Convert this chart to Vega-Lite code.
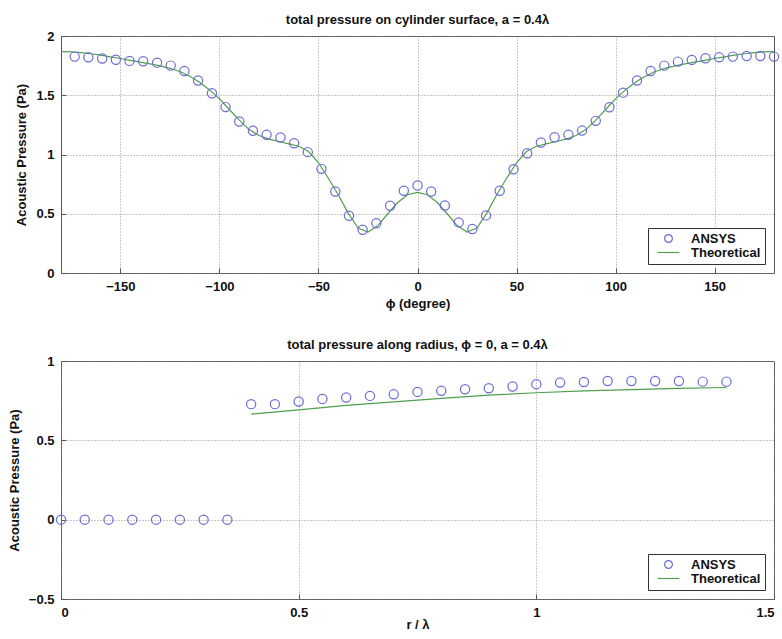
{
  "$schema": "https://vega.github.io/schema/vega-lite/v6.json",
  "padding": {"left": 7, "top": 13, "right": 0, "bottom": 0},
  "spacing": 88,
  "bounds": "flush",
  "datasets": {
    "topAnsys": [
      {"phi": -173.1, "p": 1.826}, {"phi": -166.2, "p": 1.82}, {"phi": -159.2, "p": 1.81}, {"phi": -152.3, "p": 1.8},
      {"phi": -145.4, "p": 1.79}, {"phi": -138.5, "p": 1.787}, {"phi": -131.5, "p": 1.775}, {"phi": -124.6, "p": 1.75},
      {"phi": -117.7, "p": 1.705}, {"phi": -110.8, "p": 1.624}, {"phi": -103.8, "p": 1.517}, {"phi": -96.9, "p": 1.4},
      {"phi": -90.0, "p": 1.278}, {"phi": -83.1, "p": 1.2}, {"phi": -76.2, "p": 1.166}, {"phi": -69.2, "p": 1.143},
      {"phi": -62.3, "p": 1.095}, {"phi": -55.4, "p": 1.02}, {"phi": -48.5, "p": 0.879}, {"phi": -41.5, "p": 0.688},
      {"phi": -34.6, "p": 0.483}, {"phi": -27.7, "p": 0.365}, {"phi": -20.8, "p": 0.42}, {"phi": -13.8, "p": 0.568},
      {"phi": -6.9, "p": 0.694}, {"phi": 0.0, "p": 0.739}, {"phi": 6.9, "p": 0.688}, {"phi": 13.8, "p": 0.57},
      {"phi": 20.8, "p": 0.427}, {"phi": 27.7, "p": 0.371}, {"phi": 34.6, "p": 0.486}, {"phi": 41.5, "p": 0.694},
      {"phi": 48.5, "p": 0.876}, {"phi": 55.4, "p": 1.011}, {"phi": 62.3, "p": 1.101}, {"phi": 69.2, "p": 1.146},
      {"phi": 76.2, "p": 1.166}, {"phi": 83.1, "p": 1.202}, {"phi": 90.0, "p": 1.284}, {"phi": 96.9, "p": 1.399},
      {"phi": 103.8, "p": 1.522}, {"phi": 110.8, "p": 1.624}, {"phi": 117.7, "p": 1.705}, {"phi": 124.6, "p": 1.75},
      {"phi": 131.5, "p": 1.784}, {"phi": 138.5, "p": 1.798}, {"phi": 145.4, "p": 1.812}, {"phi": 152.3, "p": 1.82},
      {"phi": 159.2, "p": 1.826}, {"phi": 166.2, "p": 1.831}, {"phi": 173.1, "p": 1.831}, {"phi": 180.0, "p": 1.826}
    ],
    "topTheory": [
      {"phi": -180, "p": 1.868}, {"phi": -175, "p": 1.866}, {"phi": -170, "p": 1.86}, {"phi": -165, "p": 1.85},
      {"phi": -160, "p": 1.838}, {"phi": -155, "p": 1.824}, {"phi": -150, "p": 1.81}, {"phi": -145, "p": 1.795},
      {"phi": -140, "p": 1.78}, {"phi": -135, "p": 1.765}, {"phi": -130, "p": 1.748}, {"phi": -125, "p": 1.727},
      {"phi": -120, "p": 1.7}, {"phi": -115, "p": 1.66}, {"phi": -110, "p": 1.61}, {"phi": -105, "p": 1.545},
      {"phi": -100, "p": 1.47}, {"phi": -95, "p": 1.38}, {"phi": -90, "p": 1.29}, {"phi": -85, "p": 1.21},
      {"phi": -80, "p": 1.16}, {"phi": -75, "p": 1.13}, {"phi": -70, "p": 1.11}, {"phi": -65, "p": 1.09},
      {"phi": -60, "p": 1.07}, {"phi": -55, "p": 1.025}, {"phi": -50, "p": 0.93}, {"phi": -45, "p": 0.8},
      {"phi": -40, "p": 0.66}, {"phi": -35, "p": 0.505}, {"phi": -30, "p": 0.38}, {"phi": -25, "p": 0.345},
      {"phi": -20, "p": 0.4}, {"phi": -15, "p": 0.5}, {"phi": -10, "p": 0.595}, {"phi": -5, "p": 0.66},
      {"phi": 0, "p": 0.68}, {"phi": 5, "p": 0.66}, {"phi": 10, "p": 0.595}, {"phi": 15, "p": 0.5},
      {"phi": 20, "p": 0.4}, {"phi": 25, "p": 0.345}, {"phi": 30, "p": 0.38}, {"phi": 35, "p": 0.505},
      {"phi": 40, "p": 0.66}, {"phi": 45, "p": 0.8}, {"phi": 50, "p": 0.93}, {"phi": 55, "p": 1.025},
      {"phi": 60, "p": 1.07}, {"phi": 65, "p": 1.09}, {"phi": 70, "p": 1.11}, {"phi": 75, "p": 1.13},
      {"phi": 80, "p": 1.16}, {"phi": 85, "p": 1.21}, {"phi": 90, "p": 1.29}, {"phi": 95, "p": 1.38},
      {"phi": 100, "p": 1.47}, {"phi": 105, "p": 1.545}, {"phi": 110, "p": 1.61}, {"phi": 115, "p": 1.66},
      {"phi": 120, "p": 1.7}, {"phi": 125, "p": 1.727}, {"phi": 130, "p": 1.748}, {"phi": 135, "p": 1.765},
      {"phi": 140, "p": 1.78}, {"phi": 145, "p": 1.795}, {"phi": 150, "p": 1.81}, {"phi": 155, "p": 1.824},
      {"phi": 160, "p": 1.838}, {"phi": 165, "p": 1.85}, {"phi": 170, "p": 1.86}, {"phi": 175, "p": 1.866},
      {"phi": 180, "p": 1.868}
    ],
    "botAnsys": [
      {"r": 0.0, "p": 0}, {"r": 0.05, "p": 0}, {"r": 0.1, "p": 0}, {"r": 0.15, "p": 0},
      {"r": 0.2, "p": 0}, {"r": 0.25, "p": 0}, {"r": 0.3, "p": 0}, {"r": 0.35, "p": 0},
      {"r": 0.4, "p": 0.728}, {"r": 0.45, "p": 0.728}, {"r": 0.5, "p": 0.745}, {"r": 0.55, "p": 0.761},
      {"r": 0.6, "p": 0.77}, {"r": 0.65, "p": 0.78}, {"r": 0.7, "p": 0.79}, {"r": 0.75, "p": 0.805},
      {"r": 0.8, "p": 0.812}, {"r": 0.85, "p": 0.822}, {"r": 0.9, "p": 0.828}, {"r": 0.95, "p": 0.839},
      {"r": 1.0, "p": 0.854}, {"r": 1.05, "p": 0.864}, {"r": 1.1, "p": 0.868}, {"r": 1.15, "p": 0.874},
      {"r": 1.2, "p": 0.874}, {"r": 1.25, "p": 0.874}, {"r": 1.3, "p": 0.874}, {"r": 1.35, "p": 0.87},
      {"r": 1.4, "p": 0.87}
    ],
    "botTheory": [
      {"r": 0.4, "p": 0.665}, {"r": 0.5, "p": 0.692}, {"r": 0.6, "p": 0.72}, {"r": 0.7, "p": 0.743},
      {"r": 0.8, "p": 0.765}, {"r": 0.9, "p": 0.785}, {"r": 1.0, "p": 0.8}, {"r": 1.1, "p": 0.812},
      {"r": 1.2, "p": 0.82}, {"r": 1.3, "p": 0.827}, {"r": 1.4, "p": 0.833}
    ]
  },
  "vconcat": [
    {
      "width": 713,
      "height": 237,
      "title": {"text": "total pressure on cylinder surface, a = 0.4λ", "offset": 3},
      "layer": [
        {
          "data": {"name": "topTheory"},
          "mark": {"type": "line", "strokeWidth": 1.2},
          "encoding": {
            "x": {"field": "phi", "type": "quantitative", "scale": {"domain": [-180, 180], "nice": false, "zero": false},
                  "axis": {"values": [-150, -100, -50, 0, 50, 100, 150], "title": "ϕ (degree)", "titlePadding": 4}},
            "y": {"field": "p", "type": "quantitative", "scale": {"domain": [0, 2], "nice": false},
                  "axis": {"values": [0, 0.5, 1, 1.5, 2], "format": "~g", "title": "Acoustic Pressure (Pa)"}},
            "color": {"datum": "Theoretical", "type": "nominal",
                      "scale": {"domain": ["ANSYS", "Theoretical"], "range": ["#6b6bd6", "#4f9f4f"]}}
          }
        },
        {
          "data": {"name": "topAnsys"},
          "mark": {"type": "point", "filled": false, "size": 85, "strokeWidth": 1.2, "opacity": 1},
          "encoding": {
            "x": {"field": "phi", "type": "quantitative"},
            "y": {"field": "p", "type": "quantitative"},
            "color": {"datum": "ANSYS", "type": "nominal"},
            "shape": {"datum": "ANSYS", "type": "nominal",
                      "scale": {"domain": ["ANSYS", "Theoretical"], "range": ["circle", "M-2.8,0H2.8"]}}
          }
        }
      ]
    },
    {
      "width": 713,
      "height": 238,
      "title": {"text": "total pressure along radius, ϕ = 0, a = 0.4λ", "offset": 3},
      "layer": [
        {
          "data": {"name": "botTheory"},
          "mark": {"type": "line", "strokeWidth": 1.2},
          "encoding": {
            "x": {"field": "r", "type": "quantitative", "scale": {"domain": [0, 1.5], "nice": false},
                  "axis": {"values": [0, 0.5, 1, 1.5], "format": "~g", "title": "r / λ", "titlePadding": -1}},
            "y": {"field": "p", "type": "quantitative", "scale": {"domain": [-0.5, 1], "nice": false},
                  "axis": {"values": [-0.5, 0, 0.5, 1], "format": "~g", "title": "Acoustic Pressure (Pa)"}},
            "color": {"datum": "Theoretical", "type": "nominal",
                      "scale": {"domain": ["ANSYS", "Theoretical"], "range": ["#6b6bd6", "#4f9f4f"]}}
          }
        },
        {
          "data": {"name": "botAnsys"},
          "mark": {"type": "point", "filled": false, "size": 85, "strokeWidth": 1.2, "opacity": 1},
          "encoding": {
            "x": {"field": "r", "type": "quantitative"},
            "y": {"field": "p", "type": "quantitative"},
            "color": {"datum": "ANSYS", "type": "nominal"},
            "shape": {"datum": "ANSYS", "type": "nominal",
                      "scale": {"domain": ["ANSYS", "Theoretical"], "range": ["circle", "M-2.8,0H2.8"]}}
          }
        }
      ]
    }
  ],
  "resolve": {"scale": {"color": "independent", "shape": "independent"}},
  "config": {
    "font": "Liberation Sans",
    "view": {"stroke": "#555", "strokeWidth": 1},
    "title": {"fontSize": 13, "fontWeight": "bold", "color": "#111", "anchor": "middle"},
    "axis": {
      "domain": false,
      "grid": true,
      "gridColor": "#888",
      "gridDash": [1, 2],
      "gridWidth": 1,
      "gridOpacity": 0.9,
      "ticks": true,
      "tickSize": -5,
      "tickColor": "#555",
      "labelPadding": 12,
      "labelFont": "Liberation Sans",
      "labelFontSize": 13,
      "labelFontWeight": "bold",
      "labelColor": "#111",
      "titleFont": "Liberation Sans",
      "titleFontSize": 13,
      "titleFontWeight": "bold",
      "titleColor": "#111"
    },
    "axisY": {"titlePadding": 7},
    "legend": {
      "orient": "bottom-right",
      "offset": 9,
      "title": null,
      "fillColor": "white",
      "strokeColor": "#333",
      "padding": 4,
      "symbolOffset": 10,
      "symbolSize": 60,
      "symbolStrokeWidth": 1.2,
      "labelFontSize": 13,
      "labelFontWeight": "bold",
      "labelColor": "#111",
      "labelOffset": 16,
      "rowPadding": 0
    }
  }
}
